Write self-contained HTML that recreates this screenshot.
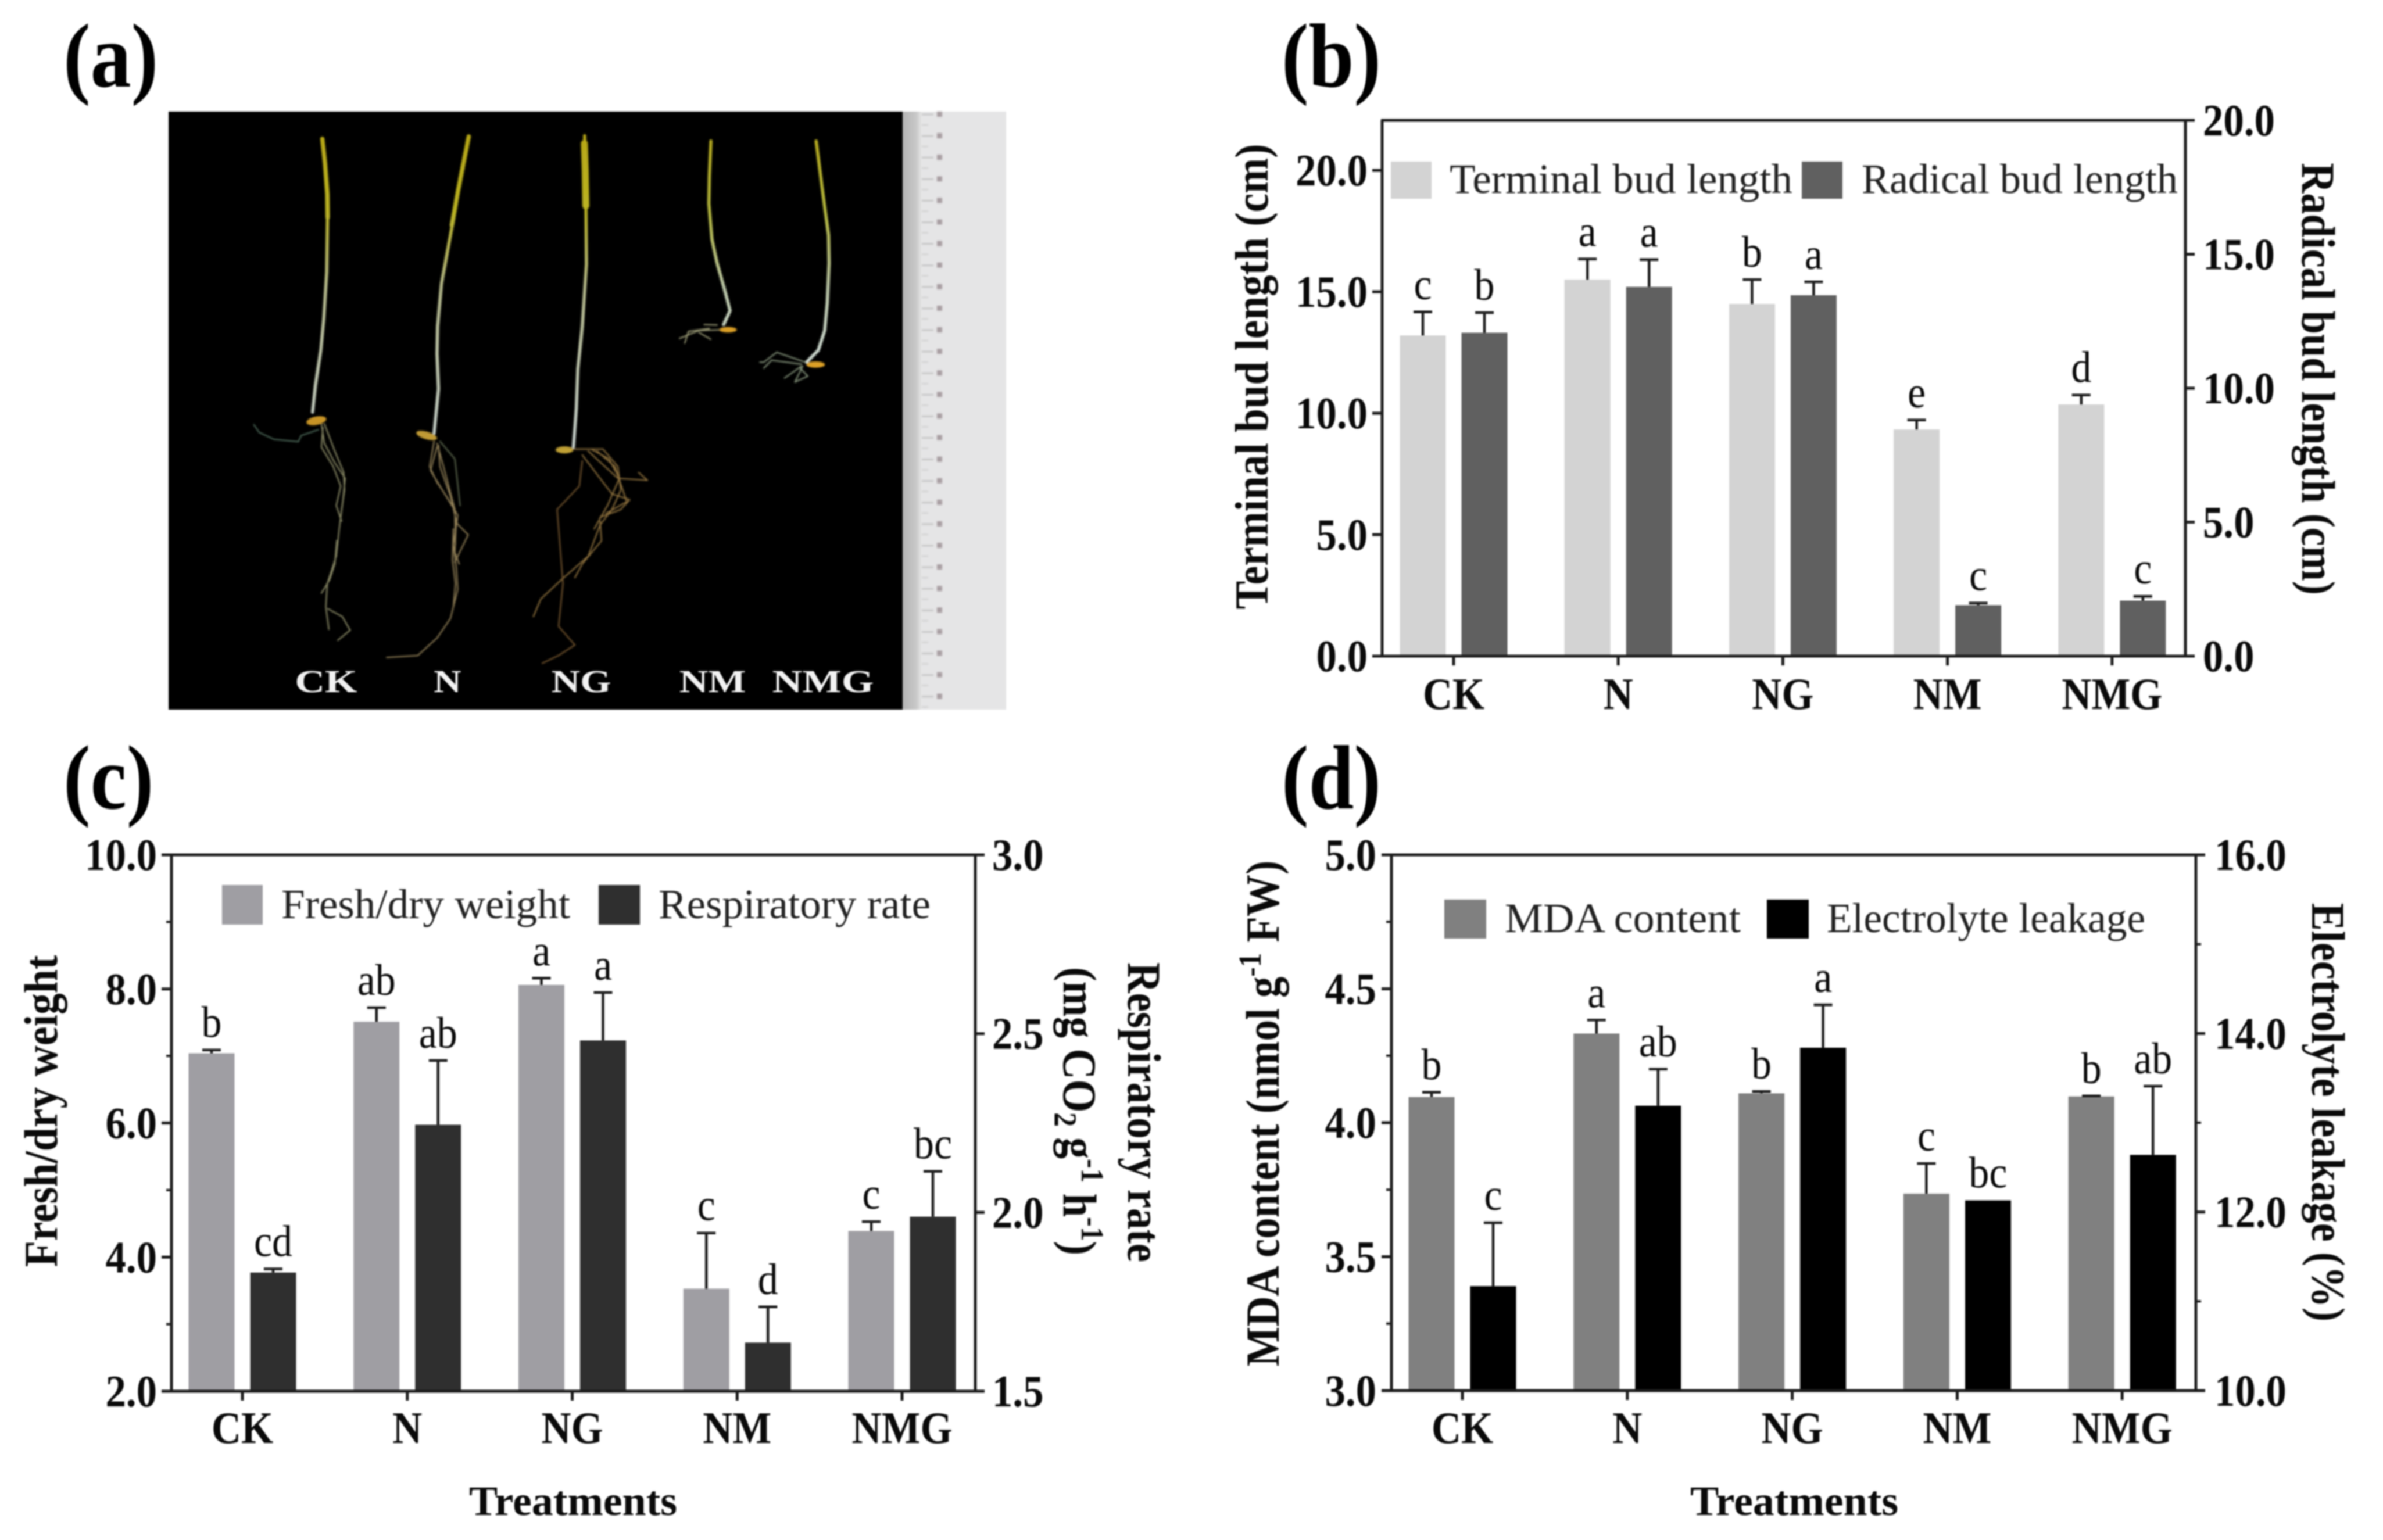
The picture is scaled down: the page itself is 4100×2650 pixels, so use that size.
<!DOCTYPE html>
<html lang="en">
<head>
<meta charset="utf-8">
<title>Seedling growth under treatments</title>
<style>
html,body{margin:0;padding:0;background:#fff;width:4100px;height:2650px;overflow:hidden}
svg{display:block;filter:blur(1.2px)}
text{font-family:"Liberation Serif","Times New Roman",serif;fill:#0a0a0a}
.bold{font-weight:700}
.title{font-weight:700;font-size:74px}
.leg{font-size:72px;fill:#222}
.panel{font-weight:700;font-size:140px;fill:#000}
.photo-label{font-weight:700;font-size:55px;fill:#f2f2f2}
.root{fill:none;stroke-width:2.2;stroke-linejoin:round;stroke-linecap:round;vector-effect:non-scaling-stroke}
.shoot{fill:none;stroke-width:5.5;stroke-linejoin:round;stroke-linecap:round;vector-effect:non-scaling-stroke}
.leaf{fill:none;stroke-width:7.5;stroke-linejoin:round;stroke-linecap:round;vector-effect:non-scaling-stroke}
</style>
</head>
<body>
<svg id="figure" xmlns="http://www.w3.org/2000/svg" width="4100" height="2650" viewBox="0 0 4100 2650">
  <defs>
    <filter id="soft" x="-5%" y="-5%" width="110%" height="110%"><feGaussianBlur stdDeviation="1"/></filter>
    <linearGradient id="shootA" gradientUnits="userSpaceOnUse" x1="0" y1="50" x2="0" y2="820">
      <stop offset="0" stop-color="#b8a818"/><stop offset="0.25" stop-color="#bcb422"/>
      <stop offset="0.5" stop-color="#b8bc8c"/><stop offset="1" stop-color="#c8d2cc"/>
    </linearGradient>
    <linearGradient id="shootB" gradientUnits="userSpaceOnUse" x1="0" y1="90" x2="0" y2="620">
      <stop offset="0" stop-color="#bcb020"/><stop offset="0.35" stop-color="#b8bc40"/>
      <stop offset="0.7" stop-color="#c0ccac"/><stop offset="1" stop-color="#d0dcd2"/>
    </linearGradient>
    <linearGradient id="rulerEdge" x1="0" x2="1" y1="0" y2="0">
      <stop offset="0" stop-color="#b4b4b4"/><stop offset="0.7" stop-color="#c8c8c8"/><stop offset="1" stop-color="#e6e6e6"/>
    </linearGradient>
  </defs>

  <text class="panel" transform="translate(109,149) scale(1,1.12)">(a)</text>
  <text class="panel" transform="translate(2205,149) scale(1,1.12)">(b)</text>
  <text class="panel" transform="translate(109,1391) scale(1,1.12)">(c)</text>
  <text class="panel" transform="translate(2205,1391) scale(1,1.12)">(d)</text>

  <!-- Panel a: seedling photograph -->
  <g>
    <rect x="1553" y="192" width="178" height="1029" fill="#e5e5e6"/>
    <rect x="1553" y="192" width="33" height="1029" fill="url(#rulerEdge)"/>
    <g id="ruler-marks" filter="url(#soft)"></g>
    <rect x="290" y="192" width="1263" height="1029" fill="#000"/>
    <g filter="url(#soft)">
      <g transform="translate(400,200) scale(0.51,0.67)">
        <g>
          <polyline class="leaf" stroke="url(#shootA)" points="303,58 312,120 320,200 321,260"/>
          <polyline class="shoot" stroke="url(#shootA)" points="321,240 318,400 308,520 298,600 280,690 270,760"/>
          <g stroke="#90906a">
            <polyline class="root" points="300,790 310,840 345,890 380,930 372,990 360,1060 350,1130 320,1200 315,1260 325,1318"/>
            <polyline class="root" points="310,790 345,860 375,915 378,960 368,1010"/>
            <polyline class="root" points="305,800 300,850 340,900 365,950 350,1000 368,1040"/>
            <polyline class="root" points="352,1090 345,1150 328,1190 300,1225"/>
            <polyline class="root" points="322,1265 370,1285 397,1320 355,1346"/>
            <polyline class="root" stroke="#4d6a5a" points="72,792 90,812 140,830 222,836 232,820 290,805"/>
          </g>
          <ellipse cx="283" cy="782" rx="34" ry="11" fill="#c89428" transform="rotate(-8 283 782)"/>
        </g>
        <g>
          <polyline class="leaf" stroke="url(#shootA)" points="797,52 778,125 760,195 740,280"/>
          <polyline class="shoot" stroke="url(#shootA)" points="745,265 705,430 692,540 690,610 695,700 680,815"/>
          <g stroke="#96845a">
            <polyline class="root" points="680,835 665,900 690,940 725,980 760,1025 745,1100 755,1160 760,1215 735,1290 690,1340 625,1385 520,1390"/>
            <polyline class="root" points="690,840 712,900 750,1010 752,1100"/>
            <polyline class="root" stroke="#5e6a50" points="700,835 750,880 768,1000"/>
            <polyline class="root" points="750,1040 795,1075 760,1130 750,1145"/>
            <polyline class="root" points="690,850 668,910 740,1000"/>
            <polyline class="root" points="695,845 700,900 735,975 755,1040 750,1120 765,1150"/>
            <polyline class="root" points="745,1060 742,1140 752,1200 745,1260"/>
          </g>
          <ellipse cx="655" cy="820" rx="36" ry="10" fill="#c09a34" transform="rotate(12 655 820)"/>
        </g>
        <g>
          <polyline class="leaf" stroke="url(#shootA)" style="stroke-width:12px" points="1187,70 1190,140 1192,230"/>
          <polyline class="shoot" stroke="url(#shootA)" points="1188,50 1192,200 1194,380 1180,540 1165,650 1160,750 1150,850"/>
          <g stroke="#947640">
            <polyline class="root" points="1150,855 1250,855 1300,900 1310,960 1280,1010 1240,1050 1200,1130 1110,1190 1040,1240 1015,1285"/>
            <polyline class="root" points="1180,870 1280,970 1340,985 1310,1010 1240,1030"/>
            <polyline class="root" stroke="#7a5a30" points="1180,885 1170,950 1095,1010 1115,1200 1100,1310 1155,1358 1100,1385 1045,1405"/>
            <polyline class="root" points="1200,860 1300,930 1400,935 1370,915"/>
            <polyline class="root" points="1240,1040 1245,1090 1180,1150 1155,1185"/>
            <polyline class="root" points="1230,860 1290,900 1330,990 1260,1020"/>
            <polyline class="root" points="1210,855 1270,880 1305,930 1265,1000 1220,1060"/>
          </g>
          <ellipse cx="1120" cy="857" rx="30" ry="9" fill="#c0a034"/>
        </g>
      </g>
      <g transform="translate(1100,180) scale(0.446,0.682)">
        <g>
          <polyline class="shoot" stroke="url(#shootB)" points="276,92 270,180 268,250 280,340 300,400 330,470 350,520 325,555"/>
          <g stroke="#a0a07a">
            <polyline class="root" points="320,568 230,570 155,590"/>
            <polyline class="root" points="270,565 190,572 175,602"/>
            <polyline class="root" points="250,555 300,556"/>
            <polyline class="root" points="230,575 275,592"/>
          </g>
          <ellipse cx="342" cy="568" rx="34" ry="7" fill="#dca026"/>
        </g>
        <g>
          <polyline class="shoot" stroke="url(#shootB)" points="682,92 705,210 730,330 732,400 725,500 715,570 690,620 645,650"/>
          <g stroke="#8a9a80">
            <polyline class="root" points="640,650 530,625 480,650 465,650"/>
            <polyline class="root" points="625,655 510,645 480,665"/>
            <polyline class="root" points="625,660 560,690"/>
            <polyline class="root" points="630,660 600,700 650,685 620,665"/>
          </g>
          <ellipse cx="680" cy="656" rx="36" ry="8" fill="#dca026"/>
        </g>
      </g>
    </g>
    <g>
      <text class="photo-label" text-anchor="middle" transform="translate(561,1191) scale(1.3,1)">CK</text>
      <text class="photo-label" text-anchor="middle" transform="translate(770,1191) scale(1.2,1)">N</text>
      <text class="photo-label" text-anchor="middle" transform="translate(1000,1191) scale(1.25,1)">NG</text>
      <text class="photo-label" text-anchor="middle" transform="translate(1226,1191) scale(1.25,1)">NM</text>
      <text class="photo-label" text-anchor="middle" transform="translate(1416,1191) scale(1.3,1)">NMG</text>
    </g>
  </g>

  <!-- Axis titles -->
  <text class="title" text-anchor="middle" transform="translate(2181,648) rotate(-90) scale(0.99,1.1)">Terminal bud length (cm)</text>
  <text class="title" text-anchor="middle" transform="translate(3961,652) rotate(90) scale(0.975,1.1)">Radical bud length (cm)</text>
  <text class="title" text-anchor="middle" transform="translate(98,1912) rotate(-90) scale(0.995,1.1)">Fresh/dry weight</text>
  <text class="title" text-anchor="middle" transform="translate(1941,1914) rotate(90) scale(0.985,1.1)">Respiratory rate</text>
  <text class="title" text-anchor="middle" transform="translate(1830,1912) rotate(90) scale(0.99,1.1)">(mg CO<tspan font-size="50" dy="14">2</tspan><tspan dy="-14"> g</tspan><tspan font-size="50" dy="-28">-1</tspan><tspan dy="28"> h</tspan><tspan font-size="50" dy="-28">-1</tspan><tspan dy="28">)</tspan></text>
  <text class="title" text-anchor="middle" transform="translate(2200,1916) rotate(-90) scale(0.98,1.1)">MDA content (nmol g<tspan font-size="50" dy="-28">-1</tspan><tspan dy="28"> FW)</tspan></text>
  <text class="title" text-anchor="middle" transform="translate(3978,1914) rotate(90) scale(0.97,1.1)">Electrolyte leakage (%)</text>
  <text class="title" text-anchor="middle" x="986" y="2607" style="font-size:72px" textLength="358" lengthAdjust="spacingAndGlyphs">Treatments</text>
  <text class="title" text-anchor="middle" x="3087" y="2607" style="font-size:72px" textLength="358" lengthAdjust="spacingAndGlyphs">Treatments</text>

  <!-- Legends -->
  <g>
    <rect x="2393" y="278" width="70" height="64" fill="#d3d3d3"/>
    <text class="leg" x="2494" y="332" textLength="590" lengthAdjust="spacingAndGlyphs">Terminal bud length</text>
    <rect x="3100" y="278" width="70" height="64" fill="#606060"/>
    <text class="leg" x="3203" y="332">Radical bud length</text>
  </g>
  <g>
    <rect x="382" y="1523" width="70" height="68" fill="#9f9ea3"/>
    <text class="leg" x="484" y="1580" textLength="497" lengthAdjust="spacingAndGlyphs">Fresh/dry weight</text>
    <rect x="1030" y="1523" width="71" height="68" fill="#2f2f2f"/>
    <text class="leg" x="1133" y="1580" textLength="468" lengthAdjust="spacingAndGlyphs">Respiratory rate</text>
  </g>
  <g>
    <rect x="2485" y="1548" width="72" height="67" fill="#808080"/>
    <text class="leg" x="2589" y="1604" textLength="406" lengthAdjust="spacingAndGlyphs">MDA content</text>
    <rect x="3040" y="1548" width="72" height="67" fill="#000"/>
    <text class="leg" x="3143" y="1604" textLength="548" lengthAdjust="spacingAndGlyphs">Electrolyte leakage</text>
  </g>

  <g id="chart-b"></g>
  <g id="chart-c"></g>
  <g id="chart-d"></g>
</svg>

<script>
// Shared category labels
const categories = ['CK', 'N', 'NG', 'NM', 'NMG'];

// Panel b
const terminalBud = [13.2, 15.5, 14.5, 9.33, 10.36];
const terminalBudErr = [0.97, 0.85, 1.0, 0.39, 0.39];
const terminalBudLetters = ['c', 'a', 'b', 'e', 'd'];
const radicalBud = [12.07, 13.78, 13.47, 1.9, 2.07];
const radicalBudErr = [0.75, 1.02, 0.5, 0.08, 0.16];
const radicalBudLetters = ['b', 'a', 'a', 'c', 'c'];
const bLeftTicks = [0, 5, 10, 15, 20];
const bRightTicks = [0, 5, 10, 15, 20];
const bLeftRange = [0, 22.06];
const bRightRange = [0, 20];

// Panel c
const freshDry = [7.04, 7.51, 8.06, 3.53, 4.39];
const freshDryErr = [0.05, 0.21, 0.1, 0.83, 0.14];
const freshDryLetters = ['b', 'ab', 'a', 'c', 'c'];
const respiration = [1.832, 2.245, 2.481, 1.636, 1.988];
const respirationErr = [0.01, 0.18, 0.134, 0.1, 0.127];
const respirationLetters = ['cd', 'ab', 'a', 'd', 'bc'];
const cLeftTicks = [2, 4, 6, 8, 10];
const cLeftMinor = [3, 5, 7, 9];
const cRightTicks = [1.5, 2, 2.5, 3];
const cLeftRange = [2, 10];
const cRightRange = [1.5, 3];

// Panel d
const mdaContent = [4.096, 4.333, 4.11, 3.735, 4.098];
const mdaContentErr = [0.018, 0.05, 0.007, 0.113, 0.002];
const mdaLetters = ['b', 'a', 'b', 'c', 'b'];
const electrolyte = [11.17, 13.19, 13.84, 12.13, 12.64];
const electrolyteErr = [0.71, 0.41, 0.48, 0, 0.77];
const electrolyteLetters = ['c', 'ab', 'a', 'bc', 'ab'];
const dLeftTicks = [3, 3.5, 4, 4.5, 5];
const dLeftMinor = [3.25, 3.75, 4.25, 4.75];
const dRightTicks = [10, 12, 14, 16];
const dRightMinor = [11, 13, 15];
const dLeftRange = [3, 5];
const dRightRange = [10, 16];

const NS = 'http://www.w3.org/2000/svg';
const AXIS = '#1c1c1c';
const TEXT_SX = 0.92;
const BAR_W = 79;
const BAR_OFFSET = 53;

function el(tag, attrs, parent) {
  const node = document.createElementNS(NS, tag);
  for (const k in attrs) node.setAttribute(k, attrs[k]);
  parent.appendChild(node);
  return node;
}

function line(parent, x1, y1, x2, y2, w) {
  return el('line', { x1: x1, y1: y1, x2: x2, y2: y2, stroke: AXIS, 'stroke-width': w || 5 }, parent);
}

function label(parent, x, y, str, anchor, size, bold) {
  const t = el('text', {
    'text-anchor': anchor,
    transform: 'translate(' + x + ',' + y + ') scale(' + TEXT_SX + ',1)',
    'font-size': size,
    'font-weight': bold ? 700 : 400
  }, parent);
  t.textContent = str;
  return t;
}

function drawPanel(p) {
  const root = document.getElementById('chart-' + p.id);
  const yLeft = v => p.yB - (v - p.leftRange[0]) / (p.leftRange[1] - p.leftRange[0]) * (p.yB - p.yT);
  const yRight = v => p.yB - (v - p.rightRange[0]) / (p.rightRange[1] - p.rightRange[0]) * (p.yB - p.yT);
  const xBand = i => p.x0 + i * p.step;

  p.series.forEach((s, si) => {
    const yScale = s.axis === 'left' ? yLeft : yRight;
    const off = si === 0 ? -BAR_OFFSET : BAR_OFFSET;
    s.values.forEach((v, i) => {
      const cx = xBand(i) + off;
      const top = yScale(v);
      const errTop = yScale(v + s.errors[i]);
      const bar = el('rect', { x: cx - BAR_W / 2, y: top, width: BAR_W, height: p.yB - top, fill: s.color }, root);
      
      
      if (s.errors[i] > 0) {
        const stem = line(root, cx, top, cx, errTop, 4.5);
        
        
        const cap = line(root, cx - 16, errTop, cx + 16, errTop, 4.5);
        
        
      }
      const letter = label(root, cx, errTop - 22, s.letters[i], 'middle', 76, false);
      
      
    });
  });

  const axisLeft = line(root, p.xL, p.yT, p.xL, p.yB);
  
  
  const axisRight = line(root, p.xR, p.yT, p.xR, p.yB);
  
  
  const axisTop = line(root, p.xL - 2, p.yT, p.xR + 16, p.yT);
  
  
  const axisBottom = line(root, p.xL - 2, p.yB, p.xR + 2, p.yB);
  
  

  p.leftTicks.forEach(v => {
    const tick = line(root, p.xL - 17, yLeft(v), p.xL, yLeft(v));
    
    
    const lab = label(root, p.leftLabelX, yLeft(v) + 26, v.toFixed(1), 'end', 77, true);
    
    
  });
  p.leftMinor.forEach(v => {
    const tick = line(root, p.xL - 9, yLeft(v), p.xL, yLeft(v), 4);
    
    
  });
  p.rightTicks.forEach(v => {
    const tick = line(root, p.xR, yRight(v), p.xR + 16, yRight(v));
    
    
    const lab = label(root, p.rightLabelX, yRight(v) + 26, v.toFixed(1), 'start', 77, true);
    
    
  });
  p.rightMinor.forEach(v => {
    const tick = line(root, p.xR, yRight(v), p.xR + 9, yRight(v), 4);
    
    
  });
  categories.forEach((c, i) => {
    const tick = line(root, xBand(i), p.yB, xBand(i), p.yB + 16);
    
    
    const lab = label(root, xBand(i), p.xLabelY, c, 'middle', 77, true);
    
    
  });
}

drawPanel({
  id: 'b', xL: 2378, xR: 3760, yT: 207, yB: 1129, x0: 2501, step: 283.2,
  leftLabelX: 2353, rightLabelX: 3790, xLabelY: 1220,
  leftRange: bLeftRange, rightRange: bRightRange,
  leftTicks: bLeftTicks, leftMinor: [], rightTicks: bRightTicks, rightMinor: [],
  series: [
    { name: 'terminal-bud', axis: 'left', color: '#d3d3d3', values: terminalBud, errors: terminalBudErr, letters: terminalBudLetters },
    { name: 'radical-bud', axis: 'right', color: '#606060', values: radicalBud, errors: radicalBudErr, letters: radicalBudLetters }
  ]
});

drawPanel({
  id: 'c', xL: 295, xR: 1678, yT: 1471, yB: 2394, x0: 417, step: 283.75,
  leftLabelX: 270, rightLabelX: 1707, xLabelY: 2483,
  leftRange: cLeftRange, rightRange: cRightRange,
  leftTicks: cLeftTicks, leftMinor: cLeftMinor, rightTicks: cRightTicks, rightMinor: [],
  series: [
    { name: 'fresh-dry-weight', axis: 'left', color: '#9f9ea3', values: freshDry, errors: freshDryErr, letters: freshDryLetters },
    { name: 'respiratory-rate', axis: 'right', color: '#2f2f2f', values: respiration, errors: respirationErr, letters: respirationLetters }
  ]
});

drawPanel({
  id: 'd', xL: 2394, xR: 3778, yT: 1471, yB: 2393, x0: 2516, step: 283.8,
  leftLabelX: 2368, rightLabelX: 3810, xLabelY: 2483,
  leftRange: dLeftRange, rightRange: dRightRange,
  leftTicks: dLeftTicks, leftMinor: dLeftMinor, rightTicks: dRightTicks, rightMinor: dRightMinor,
  series: [
    { name: 'mda-content', axis: 'left', color: '#808080', values: mdaContent, errors: mdaContentErr, letters: mdaLetters },
    { name: 'electrolyte-leakage', axis: 'right', color: '#000000', values: electrolyte, errors: electrolyteErr, letters: electrolyteLetters }
  ]
});

// Ruler graduations beside the photograph
const rulerRoot = document.getElementById('ruler-marks');
for (let i = 0; i < 28; i++) {
  const y = 196 + i * 37.1;
  const major = el('rect', { x: 1586, y: y, width: 20, height: 2, fill: '#b8b8b8' }, rulerRoot);
  
  
  const minor = el('rect', { x: 1586, y: y + 18, width: 11, height: 2, fill: '#cccccc' }, rulerRoot);
  
  
  const num = el('rect', { x: 1612, y: y - 4, width: 9, height: 9, fill: '#a89ea2' }, rulerRoot);
  
  
}
</script>
</body>
</html>
